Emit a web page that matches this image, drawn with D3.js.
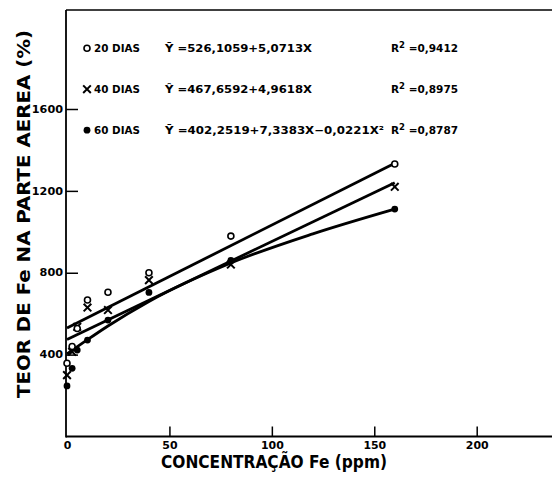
<!DOCTYPE html>
<html><head><meta charset="utf-8">
<script src="https://cdn.jsdelivr.net/npm/d3@7"></script>
<style>body{margin:0;background:#fff}svg{display:block}text{font-family:"DejaVu Sans",sans-serif;font-weight:bold;fill:#000}</style>
</head><body><svg id="c" width="552" height="490"></svg>
<script>
// concentrations (ppm)
const conc = [0, 2.5, 5, 10, 20, 40, 80, 160];
// observed values (%)
const obs20 = [358, 440, 528, 667, 705, 800, 979, 1331];
const obs40 = [300, 414, 536, 630, 618, 764, 840, 1220];
const obs60 = [247, 333, 422, 471, 569, 704, 860, 1111];
// fitted curves
const fitX20 = [0, 160], fitY20 = [530, 1335];
const fitX40 = [0, 160], fitY40 = [474, 1240];
const fitX60 = [0, 10, 20, 40, 80, 120, 160], fitY60 = [403, 473, 540, 660, 848, 990, 1111];
const xTicks = [0, 50, 100, 150, 200];
const yTicks = [400, 800, 1200, 1600];
const legendRows = [
  {sym: "circle", label: "20 DIAS", eq: "Y\u0304 =526,1059+5,0713X", r2: "0,9412"},
  {sym: "x", label: "40 DIAS", eq: "Y\u0302 =467,6592+4,9618X", r2: "0,8975"},
  {sym: "dot", label: "60 DIAS", eq: "Y\u0304 =402,2519+7,3383X\u22120,0221X\u00B2", r2: "0,8787"}
];

const svg = d3.select("#c");
const x = d3.scaleLinear().domain([0, 200]).range([67, 476.7]);
const y = d3.scaleLinear().domain([0, 1600]).range([436.5, 109]);
const X0 = 66, Y0 = 436.5, TOP = 10, RIGHT = 552;

// frame
svg.append("line").attr("x1", X0).attr("x2", X0).attr("y1", TOP).attr("y2", Y0+1).attr("stroke","#000").attr("stroke-width",1.8);
svg.append("line").attr("x1", X0).attr("x2", RIGHT).attr("y1", TOP).attr("y2", TOP).attr("stroke","#000").attr("stroke-width",1.5);

// x axis
const xa = svg.append("g").attr("transform", `translate(0,${Y0})`)
  .call(d3.axisBottom(x).tickValues(xTicks).tickSize(-10).tickPadding(6).tickFormat(d3.format("d")));
xa.select(".domain").remove();
svg.append("line").attr("x1", X0).attr("x2", RIGHT).attr("y1", Y0).attr("y2", Y0).attr("stroke","#000").attr("stroke-width",1.8);
xa.selectAll(".tick line").attr("stroke-width",1.5).filter(d=>d===0).remove();
xa.selectAll(".tick text").attr("font-size",10).attr("dy","0.9em").attr("y",3)
  .attr("textLength", d => String(d).length * 7.6).attr("lengthAdjust","spacingAndGlyphs");

// y axis
const ya = svg.append("g").attr("transform", `translate(${X0},0)`)
  .call(d3.axisLeft(y).tickValues(yTicks).tickSize(-12).tickPadding(4).tickFormat(d3.format("d")));
ya.select(".domain").remove();
ya.selectAll(".tick line").attr("stroke-width",1.5);
ya.selectAll(".tick text").attr("font-size",10).attr("x",-3)
  .attr("textLength", d => String(d).length * 7.8).attr("lengthAdjust","spacingAndGlyphs");

// axis titles
svg.append("text").attr("x", 274).attr("y", 468).attr("text-anchor","middle").attr("font-size",17)
  .attr("textLength",226).attr("lengthAdjust","spacingAndGlyphs").text("CONCENTRAÇÃO Fe (ppm)");
svg.append("text").attr("transform","translate(30,214) rotate(-90)").attr("text-anchor","middle").attr("font-size",17)
  .attr("textLength",368).attr("lengthAdjust","spacingAndGlyphs").text("TEOR DE Fe NA PARTE AEREA (%)");

// fitted lines
const line = d3.line().x(d=>x(d[0])).y(d=>y(d[1]));
const fits = [[fitX20, fitY20, d3.curveLinear],[fitX40, fitY40, d3.curveLinear],[fitX60, fitY60, d3.curveMonotoneX]];
fits.forEach(([fx, fy, c]) => {
  svg.append("path").datum(fx.map((v,i)=>[v, fy[i]])).attr("fill","none").attr("stroke","#000")
    .attr("stroke-width",2.8).attr("d", line.curve(c));
});

// markers
function marker(g, type, cx, cy) {
  if (type === "circle") g.append("circle").attr("cx",cx).attr("cy",cy).attr("r",3).attr("fill","#fff").attr("stroke","#000").attr("stroke-width",1.6);
  else if (type === "dot") g.append("circle").attr("cx",cx).attr("cy",cy).attr("r",3.4).attr("fill","#000");
  else g.append("path").attr("transform",`translate(${cx},${cy})`).attr("d", d3.symbol(d3.symbolX, 40)()).attr("fill","none").attr("stroke","#000").attr("stroke-width",2);
}
const mg = svg.append("g");
conc.forEach((c,i)=>{
  marker(mg, "dot", x(c), y(obs60[i]));
  marker(mg, "x", x(c), y(obs40[i]));
  marker(mg, "circle", x(c), y(obs20[i]));
});

// legend
const rowY = [52, 93, 134];
const eqLen = [147, 147, 219];
legendRows.forEach((r,i)=>{
  const yy = rowY[i];
  marker(svg, r.sym, 87, yy-3.8);
  svg.append("text").attr("x",94).attr("y",yy).attr("font-size",10)
    .attr("textLength",46).attr("lengthAdjust","spacingAndGlyphs").text(r.label);
  svg.append("text").attr("x",165).attr("y",yy).attr("font-size",10.5)
    .attr("textLength",eqLen[i]).attr("lengthAdjust","spacingAndGlyphs").text(r.eq);
  const t = svg.append("text").attr("x",391).attr("y",yy).attr("font-size",10.5);
  t.append("tspan").text("R");
  t.append("tspan").attr("dy",-4).attr("font-size",8.5).text("2");
  t.append("tspan").attr("dy",4).text(" =" + r.r2);
});
</script></body></html>
